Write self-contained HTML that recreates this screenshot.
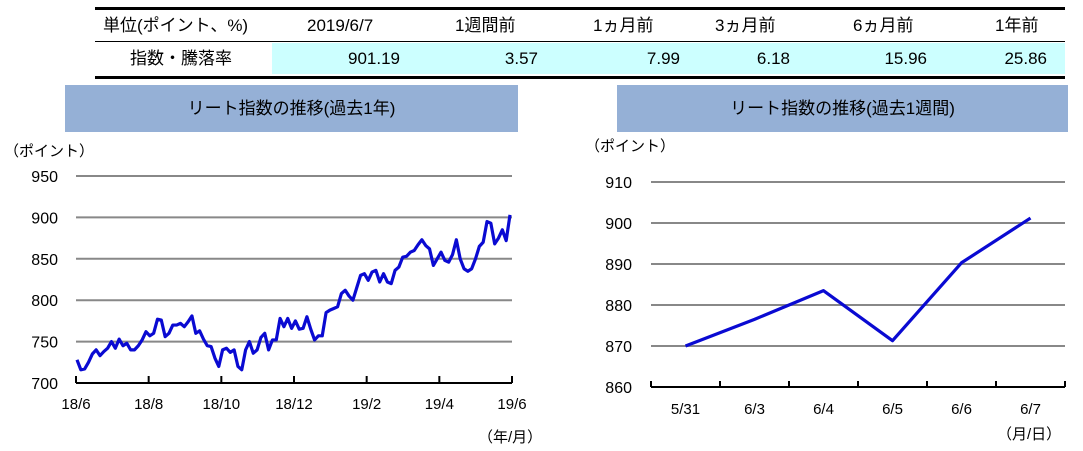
<!DOCTYPE html>
<html><head><meta charset="utf-8">
<style>
body{margin:0;width:1083px;height:451px;background:#fff;overflow:hidden;font-family:"Liberation Sans","Noto Sans CJK JP",sans-serif;}
#summary-table{position:absolute;left:95px;top:7px;width:970px;height:66px;border-top:3px solid #000;border-bottom:3px solid #000;}
.row{position:absolute;left:0;width:970px;height:31px;font-size:17px;}
.cell{position:absolute;top:0;height:31px;line-height:31px;}
.title{position:absolute;top:85px;height:47px;background:#95b0d6;font-size:17px;text-align:center;line-height:47px;color:#000;}
svg text{font-family:"Liberation Sans","Noto Sans CJK JP",sans-serif;}
</style></head><body>
<div id="summary-table">
 <div class="row" style="top:0;border-bottom:1px solid #000;">
  <div class="cell" style="left:8px">単位(ポイント、%)</div>
  <div class="cell" style="left:212px">2019/6/7</div>
  <div class="cell" style="left:360px">1週間前</div>
  <div class="cell" style="left:498px">1ヵ月前</div>
  <div class="cell" style="left:620px">3ヵ月前</div>
  <div class="cell" style="left:758px">6ヵ月前</div>
  <div class="cell" style="left:900px">1年前</div>
 </div>
 <div class="row" style="top:33px;">
  <div class="cell" style="left:35px">指数・騰落率</div>
  <div class="cell" style="left:177px;width:793px;background:#ccffff;"></div>
  <div class="cell" style="left:230px;width:75px;text-align:right">901.19</div>
  <div class="cell" style="left:368px;width:75px;text-align:right">3.57</div>
  <div class="cell" style="left:510px;width:75px;text-align:right">7.99</div>
  <div class="cell" style="left:620px;width:75px;text-align:right">6.18</div>
  <div class="cell" style="left:757px;width:75px;text-align:right">15.96</div>
  <div class="cell" style="left:877px;width:75px;text-align:right">25.86</div>
 </div>
</div>
<div class="title" style="left:65px;width:453px">リート指数の推移(過去1年)</div>
<div class="title" style="left:617px;width:451px">リート指数の推移(過去1週間)</div>
<svg id="left" width="540" height="451" style="position:absolute;left:0;top:0"></svg>
<svg id="right" width="1083" height="451" style="position:absolute;left:0;top:0"></svg>
<script>
const leftYTicks=[700,750,800,850,900,950];
const leftXLabels=["18/6","18/8","18/10","18/12","19/2","19/4","19/6"];
const leftValues=[728,716,717,725,735,740,733,738,742,750,742,753,745,748,740,740,745,752,762,757,760,777,776,756,760,770,770,772,768,774,781,760,763,753,745,744,730,720,740,742,737,740,720,716,740,750,736,740,755,760,740,752,752,778,768,778,766,775,765,766,780,765,752,757,757,785,788,790,792,808,812,805,800,815,830,832,824,834,836,822,832,822,820,836,840,852,853,858,860,867,873,866,862,842,850,858,848,846,855,873,850,838,835,838,850,865,870,895,893,868,875,885,872,903];
const rightYTicks=[860,870,880,890,900,910];
const rightCats=["5/31","6/3","6/4","6/5","6/6","6/7"];
const rightValues=[870.0,876.5,883.5,871.3,890.3,901.2];
const NS="http://www.w3.org/2000/svg";
function mk(svg,tag,attrs,txt){const e=document.createElementNS(NS,tag);for(const k in attrs)e.setAttribute(k,attrs[k]);if(txt!==undefined)e.textContent=txt;svg.appendChild(e);return e;}
// left chart
const L=document.getElementById('left');
const lx0=76,lx1=512,ly=v=>383-(v-700)*(383-176)/250;
const lxT=i=>lx0+i*(lx1-lx0)/(leftXLabels.length-1);
const lxV=i=>lx0+1+i*(lx1-lx0-3)/(leftValues.length-1);
leftYTicks.forEach(v=>{
 if(v>700){const g=mk(L,'line',{x1:lx0,x2:lx1,y1:ly(v),y2:ly(v),stroke:'#888','stroke-width':2});
 
 }
 const t=mk(L,'text',{x:58,y:ly(v)+6,'text-anchor':'end','font-size':16},v);
 
 
});
const lax=mk(L,'line',{x1:lx0,x2:lx1,y1:383,y2:383,stroke:'#000','stroke-width':2});


leftXLabels.forEach((s,i)=>{
 const tk=mk(L,'line',{x1:lxT(i),x2:lxT(i),y1:376,y2:383,stroke:'#000','stroke-width':2});
 
 
 const t=mk(L,'text',{x:lxT(i),y:409,'text-anchor':'middle','font-size':15},s);
 
 
});
const lu=mk(L,'text',{x:4,y:156,'font-size':15},'（ポイント）');


const lxu=mk(L,'text',{x:478,y:442,'font-size':15},'（年/月）');


const lp=mk(L,'polyline',{points:leftValues.map((v,i)=>lxV(i)+','+ly(v)).join(' '),fill:'none',stroke:'#0a0ad2','stroke-width':3.2,'stroke-linejoin':'round'});


// right chart
const R=document.getElementById('right');
const rx0=651,rx1=1065,ry=v=>387-(v-860)*(387-182)/50;
const bw=(rx1-rx0)/rightCats.length;
const rxC=i=>rx0+bw*(i+0.5);
rightYTicks.forEach(v=>{
 if(v>860){const g=mk(R,'line',{x1:rx0,x2:rx1,y1:ry(v),y2:ry(v),stroke:'#888','stroke-width':2});
 
 }
 const t=mk(R,'text',{x:632,y:ry(v)+6,'text-anchor':'end','font-size':16},v);
 
 
});
const rax=mk(R,'line',{x1:rx0,x2:rx1,y1:387,y2:387,stroke:'#000','stroke-width':2});


for(let i=0;i<=rightCats.length;i++){
 const tk=mk(R,'line',{x1:rx0+bw*i,x2:rx0+bw*i,y1:381,y2:387,stroke:'#000','stroke-width':2});
 
 
}
rightCats.forEach((s,i)=>{
 const t=mk(R,'text',{x:rxC(i),y:414,'text-anchor':'middle','font-size':15},s);
 
 
});
const ru=mk(R,'text',{x:585,y:151,'font-size':15},'（ポイント）');


const rxu=mk(R,'text',{x:997,y:439,'font-size':15},'（月/日）');


const rp=mk(R,'polyline',{points:rightValues.map((v,i)=>rxC(i)+','+ry(v)).join(' '),fill:'none',stroke:'#0a0ad2','stroke-width':3.2,'stroke-linejoin':'round'});


</script>
</body></html>
